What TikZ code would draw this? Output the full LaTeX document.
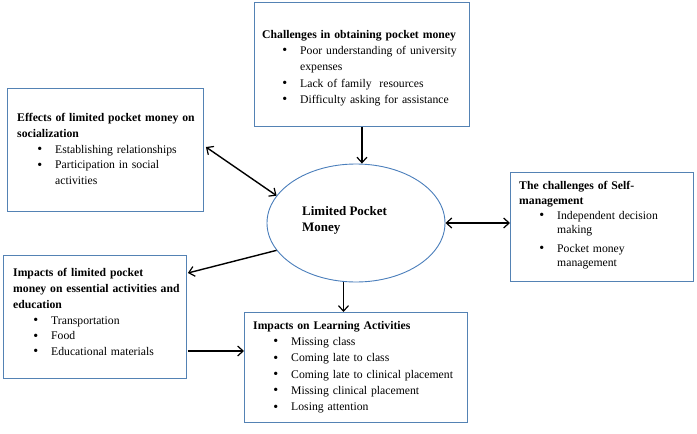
\documentclass[tikz,border=0pt]{standalone}
\usepackage{fontspec}
\setmainfont{Liberation Serif}
\usetikzlibrary{shapes.geometric,arrows.meta,calc}
\definecolor{boxblue}{RGB}{84,130,180}
\definecolor{ellblue}{RGB}{74,126,187}
\newcommand{\bigbul}{\raisebox{-0.3pt}{\fontsize{14}{14}\selectfont\textbullet}}
\newcommand{\itm}[1]{\par\hangindent=38pt\hangafter=0\noindent\llap{\bigbul\hspace{13pt}}#1\par}
\begin{document}
\begin{tikzpicture}[x=1pt,y=-1pt,
  boxnode/.style={draw=boxblue,line width=0.9pt,rectangle,inner sep=0pt,anchor=north west},
  txt/.style={anchor=north west,inner sep=0pt,align=left,font=\fontsize{11.7}{16.3}\selectfont},
  conn/.style={line width=1.4pt,black},
  barb/.style={-{Straight Barb[length=5.5pt,width=10pt,line width=1.2pt]}},
  dbarb/.style={{Straight Barb[length=5.5pt,width=10pt,line width=1.2pt]}-{Straight Barb[length=5.5pt,width=10pt,line width=1.2pt]}}
]
\useasboundingbox (0,0) rectangle (697,434);
% boxes
\node[boxnode,minimum width=215pt,minimum height=124pt] (top) at (254,2) {};
\node[boxnode,minimum width=196pt,minimum height=123pt] (soc) at (7,88) {};
\node[boxnode,minimum width=183pt,minimum height=109pt] (rgt) at (510,172) {};
\node[boxnode,minimum width=183pt,minimum height=123pt] (bl) at (3,255) {};
\node[boxnode,minimum width=223pt,minimum height=110pt] (bc) at (244,312) {};
\node[draw=ellblue,line width=0.9pt,ellipse,minimum width=178pt,minimum height=118pt,inner sep=0pt] (ell) at (356,223) {};
% texts
\node[txt,text width=205pt] (toptxt) at (262,30) {\textbf{Challenges in obtaining pocket money}
\itm{Poor understanding of university\newline expenses}
\itm{Lack of family\ \ resources}
\itm{Difficulty asking for assistance}};
\node[txt,text width=190pt,font=\fontsize{11.7}{15.8}\selectfont] (soctxt) at (17,113) {\textbf{Effects of limited pocket money on\newline socialization}
\itm{Establishing relationships}
\itm{Participation in social\newline activities}};
\node[txt,text width=178pt,font=\fontsize{11.7}{14.6}\selectfont] (rgttxt) at (519,181.5) {\textbf{The challenges of Self-\newline management}
\itm{Independent decision\newline making}\vspace{4pt}
\itm{Pocket money\newline management}};
\node[txt,text width=182pt,font=\fontsize{11.7}{15.7}\selectfont] (bltxt) at (13,268.5) {\textbf{Impacts of limited pocket\newline money on essential activities and\newline education}
\itm{Transportation}
\itm{Food}
\itm{Educational materials}};
\node[txt,text width=218pt] (bctxt) at (253,321) {\textbf{Impacts on Learning Activities}
\itm{Missing class}
\itm{Coming late to class}
\itm{Coming late to clinical placement}
\itm{Missing clinical placement}
\itm{Losing attention}};
\node[txt,font=\bfseries\fontsize{13}{16}\selectfont] (elltxt) at (302,206) {Limited Pocket\\Money};
% connectors
\coordinate (socin) at ($(soc.north east)+(2,59)$);
\coordinate (blin) at ($(bl.north east)+(1,18)$);
\coordinate (blout) at ($(bl.north east)+(1,96)$);
\draw[conn,barb] (top.south) -- (top.south |- ell.north);
\draw[conn,dbarb] (socin) -- (ell.161);
\draw[conn,dbarb] (ell.east) -- (ell.east -| rgt.west);
\draw[conn,barb] (ell.199) -- (blin);
\draw[conn,barb] (ell.258) -- (ell.258 |- bc.north);
\draw[conn,barb] (blout) -- (blout -| bc.west);
\end{tikzpicture}
\end{document}
